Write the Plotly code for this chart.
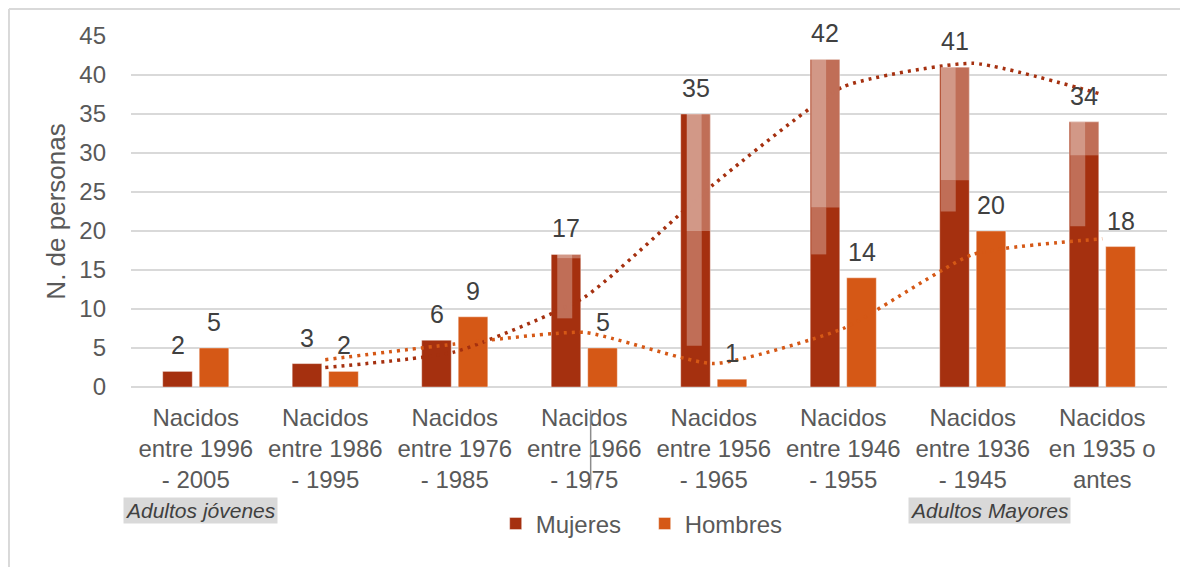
"""
Nacidos por cohorte: mujeres y hombres, con medias móviles punteadas.
"""

import plotly.graph_objects as go

# Data

categories = [
    "Nacidos<br>entre 1996<br>- 2005",
    "Nacidos<br>entre 1986<br>- 1995",
    "Nacidos<br>entre 1976<br>- 1985",
    "Nacidos<br>entre 1966<br>- 1975",
    "Nacidos<br>entre 1956<br>- 1965",
    "Nacidos<br>entre 1946<br>- 1955",
    "Nacidos<br>entre 1936<br>- 1945",
    "Nacidos<br>en 1935 o<br>antes",
]
mujeres = [2, 3, 6, 17, 35, 42, 41, 34]
hombres = [5, 2, 9, 5, 1, 14, 20, 18]

# dotted trend lines (2-period moving average, from the second cohort on)
trend_mujeres = [2.5, 4.5, 11.5, 26, 38.5, 41.5, 37.5]
trend_hombres = [3.5, 5.5, 7, 3, 7.5, 17, 19]

# faded bands seen inside the Mujeres bars: (cohort index, top, band split, lower end)
ghost_bands = [
    (3, 17, 16.5, 8.8),
    (4, 35, 20, 5.3),
    (5, 42, 23, 17),
    (6, 41, 26.5, 22.5),
    (7, 34, 29.7, 20.6),
]

# Style

COLORS = {
    "mujeres": "#A5300F",
    "hombres": "#D55816",
    "grid": "#D9D9D9",
    "tick": "#595959",
    "label": "#404040",
}
FONT = "Liberation Sans, Arial, sans-serif"
CAT_PX = 129.5  # pixel width of one category slot


def px(v):
    return v / CAT_PX


fig = go.Figure()
fig.add_trace(go.Bar(
    x=categories, y=mujeres, name="Mujeres",
    marker=dict(color=COLORS["mujeres"], line=dict(color="rgba(255,255,255,0.4)", width=1)),
))
fig.add_trace(go.Bar(
    x=categories, y=hombres, name="Hombres",
    marker=dict(color=COLORS["hombres"], line=dict(color="rgba(255,255,255,0.4)", width=1)),
))
fig.add_trace(go.Scatter(
    x=categories[1:], y=trend_mujeres, mode="lines", showlegend=False,
    line=dict(color=COLORS["mujeres"], width=3.5, dash="3px,5px", shape="spline", smoothing=0.5),
    hoverinfo="skip",
))
fig.add_trace(go.Scatter(
    x=categories[1:], y=trend_hombres, mode="lines", showlegend=False,
    line=dict(color=COLORS["hombres"], width=3.5, dash="3px,5px", shape="spline", smoothing=0.5),
    hoverinfo="skip",
))

# value labels above each bar
annotations = []
for series, shift in ((mujeres, -18.25), (hombres, 18.25)):
    for cat, val in zip(categories, series):
        annotations.append(dict(
            x=cat, y=val, text=str(val), showarrow=False,
            xshift=shift, yshift=10, yanchor="bottom",
            font=dict(family=FONT, size=25, color=COLORS["label"]),
        ))

for text, xpos in (("Adultos jóvenes", 0.0675), ("Adultos Mayores", 0.829)):
    annotations.append(dict(
        x=xpos, y=-0.353, xref="paper", yref="paper", text=f"<i>{text}</i>",
        xanchor="center", yanchor="middle",
        showarrow=False, bgcolor="#D9D9D9", borderpad=1,
        font=dict(family=FONT, size=21, color=COLORS["label"]),
    ))

shapes = []
for i, top, split, low in ghost_bands:
    left = i - px(33)
    right = i - px(3.5)
    inner_l = left + px(6 if i < 5 else 1)
    inner_r = left + px(21 if i < 5 else 16)
    shapes += [
        dict(type="rect", xref="x", yref="y", x0=inner_l, x1=inner_r, y0=split, y1=top,
             fillcolor="rgba(255,255,255,0.5)", line_width=0, layer="above"),
        dict(type="rect", xref="x", yref="y", x0=inner_r, x1=right, y0=split, y1=top,
             fillcolor="rgba(255,255,255,0.3)", line_width=0, layer="above"),
        dict(type="rect", xref="x", yref="y", x0=inner_l, x1=inner_r, y0=low, y1=split,
             fillcolor="rgba(255,255,255,0.3)", line_width=0, layer="above"),
    ]

# chart frame (left and top edges) and a stray divider in the tick labels
shapes += [
    dict(type="line", xref="paper", yref="paper", x0=-0.1178, x1=-0.1178, y0=1.0769, y1=-0.6,
         line=dict(color="#D9D9D9", width=2)),
    dict(type="line", xref="paper", yref="paper", x0=-0.1178, x1=1.03, y0=1.0769, y1=1.0769,
         line=dict(color="#D9D9D9", width=2)),
    dict(type="line", xref="paper", yref="paper", x0=0.4437, x1=0.4437, y0=-0.066, y1=-0.293,
         line=dict(color="#8C8C8C", width=1.5)),
]

# the page body adds an 8px offset, so the margins are trimmed by that much
fig.update_layout(
    width=1188, height=567,
    margin=dict(l=123, r=29, t=28, b=188),
    paper_bgcolor="white", plot_bgcolor="white",
    barmode="group", bargap=0.436, bargroupgap=0.19,
    font=dict(family=FONT, color=COLORS["tick"]),
    legend=dict(
        orientation="h", x=0.352, xanchor="left", y=-0.39, yanchor="middle",
        font=dict(family=FONT, size=24, color=COLORS["tick"]),
        entrywidth=104, entrywidthmode="pixels", itemwidth=30, traceorder="normal",
    ),
    annotations=annotations,
    shapes=shapes,
)
fig.update_yaxes(
    range=[0, 45], dtick=5, showgrid=True, gridcolor=COLORS["grid"], gridwidth=2,
    zeroline=True, zerolinecolor=COLORS["grid"], zerolinewidth=2,
    tickfont=dict(family=FONT, size=24, color=COLORS["tick"]),
    ticklabelstandoff=24,
    title=dict(text="N. de personas", font=dict(family=FONT, size=26, color=COLORS["tick"]), standoff=6),
)
fig.update_xaxes(
    showgrid=False, showline=False,
    tickfont=dict(family=FONT, size=24, color=COLORS["tick"]),
    ticklabelstandoff=14,
)

fig.write_html("out.html")
